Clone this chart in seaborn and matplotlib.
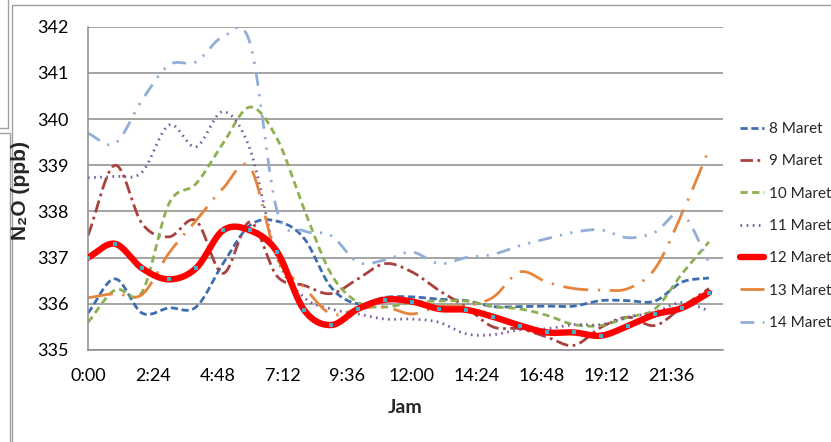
import numpy as np
import seaborn as sns
from matplotlib import pyplot as plt
from matplotlib.lines import Line2D

# hourly readings, 0:00 .. 23:00
hours = list(range(24))
labels = ["8 Maret", "9 Maret", "10 Maret", "11 Maret", "12 Maret", "13 Maret", "14 Maret"]

maret_8 = [335.8, 336.54, 335.8, 335.91, 335.93, 336.87, 337.7, 337.79, 337.42, 336.36, 336.0, 336.14,
           336.15, 336.1, 336.07, 335.94, 335.94, 335.95, 335.95, 336.07, 336.07, 336.06, 336.47, 336.56]
maret_9 = [337.48, 339.0, 337.74, 337.45, 337.8, 336.66, 337.77, 336.6, 336.4, 336.22, 336.54, 336.87,
           336.69, 336.29, 335.93, 335.5, 335.46, 335.28, 335.1, 335.49, 335.71, 335.53, 335.93, 336.33]
maret_10 = [335.6, 336.3, 336.25, 338.17, 338.6, 339.47, 340.26, 339.58, 338.06, 336.65, 336.03, 335.93,
            336.03, 336.06, 336.06, 335.94, 335.89, 335.75, 335.55, 335.53, 335.71, 335.89, 336.65, 337.34]
maret_11 = [338.73, 338.76, 338.85, 339.87, 339.4, 340.16, 339.35, 337.0, 336.14, 335.89, 335.78, 335.67,
            335.67, 335.6, 335.35, 335.33, 335.44, 335.46, 335.55, 335.55, 335.71, 335.82, 336.03, 335.85]
maret_12 = [337.0, 337.3, 336.77, 336.53, 336.77, 337.59, 337.59, 337.13, 335.87, 335.54, 335.89, 336.09,
            336.05, 335.89, 335.87, 335.72, 335.53, 335.38, 335.38, 335.31, 335.52, 335.77, 335.91, 336.24]
maret_13 = [336.13, 336.22, 336.2, 337.1, 337.8, 338.5, 338.96, 337.0, 336.36, 335.78, 335.89, 335.93,
            335.78, 335.94, 335.96, 336.14, 336.69, 336.47, 336.33, 336.3, 336.33, 336.76, 337.95, 339.34]
maret_14 = [339.69, 339.47, 340.41, 341.17, 341.24, 341.78, 341.65, 338.02, 337.58, 337.48, 336.9, 336.95,
            337.12, 336.87, 337.0, 337.07, 337.26, 337.41, 337.55, 337.6, 337.43, 337.55, 337.95, 336.9]

series = [maret_8, maret_9, maret_10, maret_11, maret_12, maret_13, maret_14]
colors = ["#3E6DB0", "#A9413E", "#8DB050", "#7A5CA0", "#FF0000", "#E5843A", "#91AED6"]
styles = [(0, (2.6, 1.3)), (0, (4.5, 1.6, 1.0, 1.6)), (0, (2.6, 1.6)), (0, (0.6, 1.6)), "-",
          (0, (9, 3.5, 0.8, 3.5)), (0, (5, 3, 0.8, 3, 0.8, 3))]
widths = [2.0, 2.0, 2.0, 2.0, 4.6, 2.0, 2.0]


def smooth(x, y, n=24):
    # catmull-rom curve like excel "smoothed line"
    x = np.asarray(x, float)
    y = np.asarray(y, float)
    px = np.concatenate([[2 * x[0] - x[1]], x, [2 * x[-1] - x[-2]]])
    py = np.concatenate([[2 * y[0] - y[1]], y, [2 * y[-1] - y[-2]]])
    t = np.linspace(0, 1, n, endpoint=False)
    xs, ys = [], []
    for i in range(1, len(px) - 2):
        for p, out in ((px, xs), (py, ys)):
            p0, p1, p2, p3 = p[i - 1], p[i], p[i + 1], p[i + 2]
            out.append(0.5 * (2 * p1 + (-p0 + p2) * t + (2 * p0 - 5 * p1 + 4 * p2 - p3) * t ** 2
                              + (-p0 + 3 * p1 - 3 * p2 + p3) * t ** 3))
    xs.append([x[-1]])
    ys.append([y[-1]])
    return np.concatenate(xs), np.concatenate(ys)


sns.set_theme(style="white")
plt.rcParams["font.family"] = ["Lato", "DejaVu Sans"]

fig = plt.figure(figsize=(8.31, 4.42), dpi=100)
ax = fig.add_axes([88 / 831, 1 - 350 / 442, (723 - 88) / 831, (350 - 26.7) / 442])

for vals, lab, col, ls, lw in zip(series, labels, colors, styles, widths):
    xs, ys = smooth(hours, vals)
    sns.lineplot(x=xs, y=ys, ax=ax, color=col, linestyle=ls, linewidth=lw, label=lab,
                 zorder=3 if lab == "12 Maret" else 2)
sns.scatterplot(x=hours, y=maret_12, ax=ax, color="#4BACC6", marker="s", s=5, linewidth=0, zorder=4)

ax.set_xlim(0, 23.52)
ax.set_ylim(335, 342)
ticks = [i * 2.4 for i in range(10)]
ax.set_xticks(ticks)
ax.set_xticklabels(["%d:%02d" % (int(t), round((t % 1) * 60)) for t in ticks])
ax.set_yticks(range(335, 343))
ax.tick_params(axis="both", labelsize=13, length=0, colors="black")
ax.tick_params(axis="x", pad=13)
ax.tick_params(axis="y", pad=14)
ax.grid(axis="y", color="#8C8C8C", linewidth=1.1)
ax.grid(axis="x", visible=False)
for s in ["top", "right"]:
    ax.spines[s].set_visible(False)
for s in ["left", "bottom"]:
    ax.spines[s].set_color("#8C8C8C")
    ax.spines[s].set_linewidth(1.1)

ax.set_xlabel("Jam", fontsize=14, fontweight="bold", labelpad=11)
fig.text(21 / 831, 1 - 191 / 442, "N\u2082O (ppb)", rotation=90, ha="center", va="center",
         fontsize=15, fontweight="bold", family=["Liberation Sans", "DejaVu Sans"])

leg = ax.legend(loc="center left", bbox_to_anchor=(740 / 831, 1 - 226 / 442),
                bbox_transform=fig.transFigure, frameon=False, fontsize=11, borderpad=0,
                handlelength=1.6, handletextpad=0.3, labelspacing=1.2, borderaxespad=0)

# excel window frame remnants
frame = [((12, 831), (5, 5)), ((12, 12), (5, 442)), ((8, 8), (0, 128)), ((0, 8), (128, 128)),
         ((0, 10), (133, 133)), ((10, 10), (133, 442))]
for xx, yy in frame:
    fig.add_artist(Line2D([v / 831 for v in xx], [1 - v / 442 for v in yy],
                          color="#A0A0A0", linewidth=1.0))

plt.savefig("out.png", dpi=100)
